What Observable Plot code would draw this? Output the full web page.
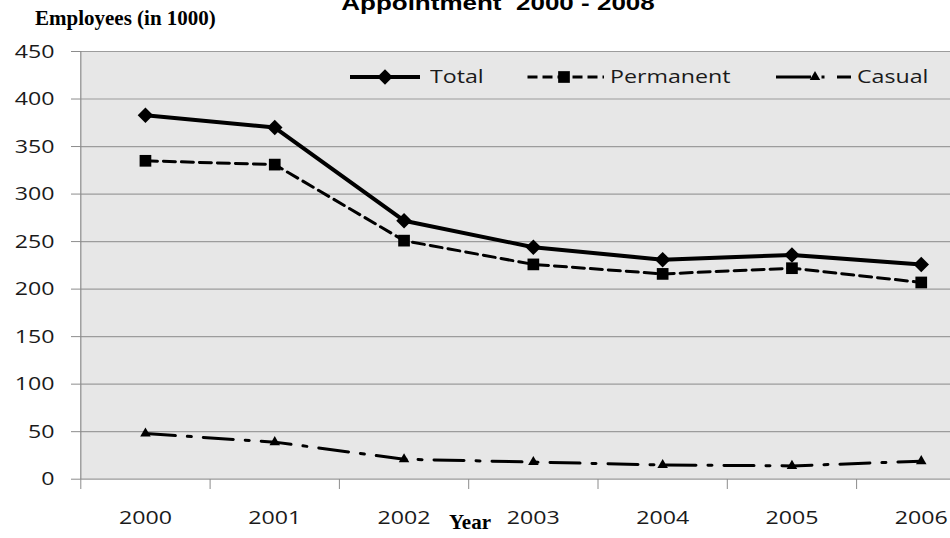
<!DOCTYPE html>
<html><head><meta charset="utf-8">
<script src="https://cdn.jsdelivr.net/npm/d3@7"></script>
<script src="https://cdn.jsdelivr.net/npm/@observablehq/plot@0.6"></script>
<style>
html,body{margin:0;padding:0;background:#fff;overflow:hidden}
#wrap{position:relative;width:950px;height:538px;overflow:hidden}
.t{position:absolute;white-space:pre;line-height:1;color:#1a1a1a}
#wrap svg{position:absolute;left:0;top:0}
</style></head><body><div id="wrap"></div>
<script>
// ---- data ----
const years = [2000, 2001, 2002, 2003, 2004, 2005, 2006];
const total = [383, 370, 272, 244, 231, 236, 226];
const permanent = [335, 331, 251, 226, 216, 222, 207];
const casual = [48, 39, 21, 18, 15, 14, 19];
const yTicks = [0, 50, 100, 150, 200, 250, 300, 350, 400, 450];
const seriesNames = ["Total", "Permanent", "Casual"];
const titleText = "Appointment  2000 - 2008";
const yTitle = "Employees (in 1000)";
const xTitle = "Year";

const S = 1.22; // horizontal stretch of the original chart's text
const seriesValues = {Total: total, Permanent: permanent, Casual: casual};
const styles = {
  Total:     {dash: null,          width: 4, symbol: "diamond2", r: 7},
  Permanent: {dash: "12,6",        width: 3, symbol: "square",   r: 6.6},
  Casual:    {dash: "30,12,4,12",  width: 3, symbol: "triangle", r: 3.9}
};
const rows = seriesNames.flatMap(s => years.map((yr, i) => ({year: yr, series: s, value: seriesValues[s][i]})));
const bounds = [...years.map(y => y - 0.5), years[years.length - 1] + 0.5];

const seriesMarks = seriesNames.flatMap(s => {
  const d = rows.filter(r => r.series === s);
  const st = styles[s];
  return [
    Plot.line(d, {x: "year", y: "value", stroke: "#000", strokeWidth: st.width, strokeDasharray: st.dash, strokeLinejoin: "round"}),
    Plot.dot(d, {x: "year", y: "value", symbol: st.symbol, r: st.r, fill: "#000", stroke: null})
  ];
});

const chart = Plot.plot({
  width: 950, height: 538,
  marginLeft: 80, marginRight: 0, marginTop: 51, marginBottom: 59,
  x: {type: "linear", domain: d3.extent(bounds), range: [80.3, 985.4], axis: null},
  y: {domain: [0, 450], range: [478.7, 51], axis: null},
  style: {fontFamily: "'Open Sans'", fontSize: "19px", color: "#1a1a1a", background: "transparent", overflow: "visible"},
  marks: [
    Plot.frame({fill: "#e7e7e7", stroke: null}),
    Plot.ruleY(yTicks, {stroke: "#9c9c9c", strokeWidth: 1.2}),
    Plot.ruleX([bounds[0]], {stroke: "#8c8c8c", strokeWidth: 1.2}),
    Plot.axisY(yTicks, {tickSize: 9, tickPadding: 17, stroke: "#8c8c8c", fill: "#1a1a1a", label: null, fontSize: 19}),
    Plot.axisX(bounds, {tickSize: 10, tickFormat: () => "", stroke: "#8c8c8c", label: null}),
    Plot.axisX(years, {tickSize: 0, tickPadding: 31, tickFormat: "d", fill: "#1a1a1a", label: null, fontSize: 19}),
    ...seriesMarks
  ]
});
const wrap = document.getElementById("wrap");
wrap.appendChild(chart);

// stretch tick labels horizontally like the reference
chart.querySelectorAll("text").forEach(el => {
  const t = el.getAttribute("transform") || "";
  el.setAttribute("transform", (t + " scale(" + S + ",1)").trim());
  [el, ...el.querySelectorAll("tspan")].forEach(n => {
    const x = n.getAttribute("x");
    if (x !== null && !isNaN(+x)) n.setAttribute("x", +x / S);
  });
});

// ---- texts ----
function addText(txt, css) {
  const d = document.createElement("div");
  d.className = "t";
  d.textContent = txt;
  Object.assign(d.style, css);
  wrap.appendChild(d);
  return d;
}
addText(titleText, {left: "498px", top: "-7px", fontFamily: "'Liberation Sans'", fontWeight: "bold", fontSize: "20px",
  transform: "translateX(-50%) scaleX(1.3)", color: "#000"});
addText(yTitle, {left: "35px", top: "8.4px", fontFamily: "'Liberation Serif'", fontWeight: "bold", fontSize: "21px", color: "#000"});
addText(xTitle, {left: "470px", top: "512.4px", fontFamily: "'Liberation Serif'", fontWeight: "bold", fontSize: "21px",
  transform: "translateX(-50%)", color: "#000"});

// ---- legend ----
const legendText = {Total: 430, Permanent: 610, Casual: 857};
seriesNames.forEach(s => addText(s, {left: legendText[s] + "px", top: "67.1px", fontFamily: "'Open Sans'", fontSize: "19px",
  transform: "scaleX(" + S + ")", transformOrigin: "0 0"}));

const leg = d3.create("svg").attr("width", 530).attr("height", 40)
  .style("left", "340px").style("top", "57px");
const swatch = {
  Total:     {x0: 10,    x1: 80,  m: 45,  dash: null, off: 0},
  Permanent: {x0: 187.5, x1: 264, m: 224, dash: "10,5", off: 0},
  Casual:    {x0: 436,   x1: 511, m: 475, dash: "35,10.5,3,12.5,14", off: 0}
};
const symMap = {diamond2: d3.symbolDiamond2, square: d3.symbolSquare, triangle: d3.symbolTriangle};
seriesNames.forEach(s => {
  const w = swatch[s], st = styles[s];
  leg.append("line").attr("x1", w.x0).attr("x2", w.x1).attr("y1", 20).attr("y2", 20)
    .attr("stroke", "#000").attr("stroke-width", st.width).attr("stroke-dasharray", w.dash);
  leg.append("path").attr("d", d3.symbol(symMap[st.symbol], Math.PI * st.r * st.r)())
    .attr("transform", `translate(${w.m},20)`).attr("fill", "#000");
});
wrap.appendChild(leg.node());
</script>
</body></html>
